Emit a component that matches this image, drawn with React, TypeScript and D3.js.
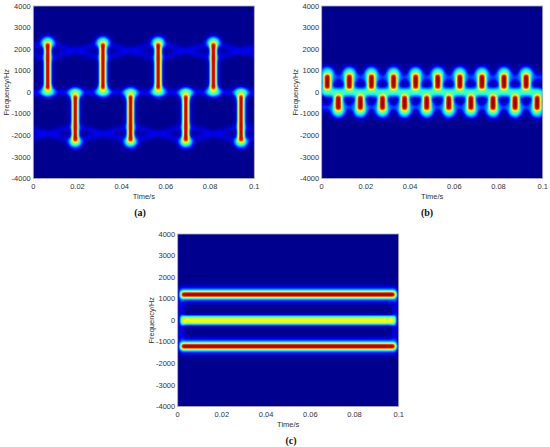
import * as d3 from 'd3';

// shared axis ticks
const timeTicks = [0, 0.02, 0.04, 0.06, 0.08, 0.1];
const freqTicks = [4000, 3000, 2000, 1000, 0, -1000, -2000, -3000, -4000];

// (a) long bars, alternating sign
const aUpperTimes = [0.0065, 0.0315, 0.0565, 0.0815];
const aLowerTimes = [0.019, 0.044, 0.069, 0.094];
const aUpperCross = [-0.006, 0.019, 0.044, 0.069, 0.094];
const aLowerCross = [0.0065, 0.0315, 0.0565, 0.0815, 0.1065];
const aCore = [130, 2280];
const aCaps = [40, 2330];
const aCrossFreq = [2300, 1550];

// (b) short bars, faster switching
const bUpperTimes = [0.0025, 0.0125, 0.0225, 0.0325, 0.0425, 0.0525, 0.0625, 0.0725, 0.0825, 0.0925];
const bLowerTimes = [0.0075, 0.0175, 0.0275, 0.0375, 0.0475, 0.0575, 0.0675, 0.0775, 0.0875, 0.0975];
const bCore = [150, 830];
const bCaps = [40, 940];
const bCrossFreq = [950, 450];

// (c) three steady tones
const cFreqs = [1200, 0, -1200];
const cLevels = [1, 0.62, 1];
const cSpan = [0.0015, 0.0985];

type Seg = { t0: number; f0: number; t1: number; f1: number; w: number; v: number };
type Cap = { t: number; f: number; rx: number; ry: number; v: number };
type Layers = { faint: Seg[]; halo: Seg[]; caps: Cap[]; core: Seg[] };

const W = 221;
const H = 172.5;

const gray = (v: number) => d3.rgb(v * 255, v * 255, v * 255).formatHex();

function crossLines(centers: number[], half: number, fTop: number, fBot: number, sign: number, w: number, v: number): Seg[] {
  return centers.flatMap(c => [
    { t0: c - half, f0: sign * fTop, t1: c + half, f1: sign * fBot, w, v },
    { t0: c + half, f0: sign * fTop, t1: c - half, f1: sign * fBot, w, v },
  ]);
}

function layersA(): Layers {
  const bars = [
    ...aUpperTimes.map(t => ({ t, s: 1 })),
    ...aLowerTimes.map(t => ({ t, s: -1 })),
  ];
  return {
    faint: [
      { t0: -0.01, f0: 0, t1: 0.11, f1: 0, w: 2.5, v: 0.28 },
      ...crossLines(aUpperCross, 0.0125, aCrossFreq[0], aCrossFreq[1], 1, 3, 0.17),
      ...crossLines(aLowerCross, 0.0125, aCrossFreq[0], aCrossFreq[1], -1, 3, 0.17),
    ],
    halo: bars.map(b => ({ t0: b.t, f0: b.s * aCaps[0], t1: b.t, f1: b.s * aCaps[1], w: 8, v: 0.22 })),
    caps: bars.flatMap(b => aCaps.map(f => ({ t: b.t, f: b.s * f, rx: 6.5, ry: 5, v: 0.5 }))),
    core: bars.map(b => ({ t0: b.t, f0: b.s * aCore[0], t1: b.t, f1: b.s * aCore[1], w: 5, v: 1 })),
  };
}

function layersB(): Layers {
  const bars = [
    ...bUpperTimes.map(t => ({ t, s: 1 })),
    ...bLowerTimes.map(t => ({ t, s: -1 })),
  ];
  return {
    faint: [
      { t0: -0.01, f0: 0, t1: 0.11, f1: 0, w: 3, v: 0.22 },
      ...crossLines(bLowerTimes, 0.005, bCrossFreq[0], bCrossFreq[1], 1, 2.5, 0.27),
      ...crossLines(bUpperTimes, 0.005, bCrossFreq[0], bCrossFreq[1], -1, 2.5, 0.27),
    ],
    halo: bars.map(b => ({ t0: b.t, f0: b.s * bCaps[0], t1: b.t, f1: b.s * bCaps[1], w: 11, v: 0.33 })),
    caps: bars.flatMap(b => bCaps.map(f => ({ t: b.t, f: b.s * f, rx: 6.5, ry: 5, v: 0.42 }))),
    core: bars.map(b => ({ t0: b.t, f0: b.s * bCore[0], t1: b.t, f1: b.s * bCore[1], w: 6, v: 1 })),
  };
}

function layersC(): Layers {
  return {
    faint: [cSpan[0], cSpan[1]].map(t => ({ t0: t, f0: -1500, t1: t, f1: 1500, w: 2, v: 0.3 })),
    halo: cFreqs
      .filter((_, i) => cLevels[i] > 0.9)
      .map(f => ({ t0: cSpan[0], f0: f, t1: cSpan[1], f1: f, w: 13, v: 0.32 })),
    caps: [],
    core: cFreqs.map((f, i) => ({
      t0: cSpan[0], f0: f, t1: cSpan[1], f1: f, w: cLevels[i] > 0.9 ? 5.5 : 8.5, v: cLevels[i],
    })),
  };
}

const panels = [
  { key: 'a', x0: 33.3, y0: 6, caption: '(a)', capX: 140, layers: layersA() },
  { key: 'b', x0: 321.7, y0: 6, caption: '(b)', capX: 427, layers: layersB() },
  { key: 'c', x0: 177.7, y0: 234, caption: '(c)', capX: 291, layers: layersC() },
];

const sans = 'Liberation Sans, Arial, sans-serif';

function Panel({ p }: { p: typeof panels[0] }) {
  const x = d3.scaleLinear().domain([0, 0.1]).range([p.x0, p.x0 + W]);
  const y = d3.scaleLinear().domain([-4000, 4000]).range([p.y0 + H, p.y0]);
  const L = p.layers;
  const segs = (list: Seg[]) =>
    list.map((s, i) => (
      <line key={i} x1={x(s.t0)} y1={y(s.f0)} x2={x(s.t1)} y2={y(s.f1)}
        stroke={gray(s.v)} strokeWidth={s.w} />
    ));
  const yb = p.y0 + H;
  return (
    <g>
      <clipPath id={`clip-${p.key}`}>
        <rect x={p.x0} y={p.y0} width={W} height={H} />
      </clipPath>
      <g clipPath={`url(#clip-${p.key})`}>
        <g filter="url(#jet)">
          <rect x={p.x0 - 20} y={p.y0 - 20} width={W + 40} height={H + 40} fill="#000" />
          <g filter="url(#blurFaint)" style={{ mixBlendMode: 'screen' }}>{segs(L.faint)}</g>
          <g filter="url(#blurHalo)" style={{ mixBlendMode: 'screen' }}>
            {segs(L.halo)}
            {L.caps.map((c, i) => (
              <ellipse key={i} cx={x(c.t)} cy={y(c.f)} rx={c.rx} ry={c.ry} fill={gray(c.v)} />
            ))}
          </g>
          <g filter="url(#blurCore)" style={{ mixBlendMode: 'screen' }}>{segs(L.core)}</g>
        </g>
      </g>
      <rect x={p.x0} y={p.y0} width={W} height={H} fill="none" stroke="#b0b0b0" strokeWidth={0.8} />
      {freqTicks.map(f => (
        <text key={f} x={p.x0 - 2.5} y={y(f)} dy="0.35em" textAnchor="end"
          fontFamily={sans} fontSize={7.5} fill="#333">{String(f)}</text>
      ))}
      {timeTicks.map(t => (
        <text key={t} x={x(t)} y={yb + 7.5} dy="0.35em" textAnchor="middle"
          fontFamily={sans} fontSize={7.5} fill="#333">{String(t)}</text>
      ))}
      <text x={p.x0 + W / 2} y={yb + 18.2} dy="0.35em" textAnchor="middle"
        fontFamily={sans} fontSize={7.5} fill="#333">Time/s</text>
      <text transform={`translate(${p.x0 - 26.5},${p.y0 + H / 2}) rotate(-90)`} dy="0.35em"
        textAnchor="middle" fontFamily={sans} fontSize={7.5} fill="#333">Frequency/Hz</text>
      <text x={p.capX} y={yb + 33.5} dy="0.35em" textAnchor="middle"
        fontFamily="Liberation Serif, Times New Roman, serif" fontWeight="bold" fontSize={10} fill="#111">
        {p.caption}
      </text>
    </g>
  );
}

export default function App() {
  return (
    <svg width={550} height={447} style={{ position: 'absolute', left: 0, top: 0, background: '#fff' }}>
      <defs>
        <filter id="jet" filterUnits="userSpaceOnUse" x={0} y={0} width={550} height={447}
          colorInterpolationFilters="sRGB">
          <feComponentTransfer>
            <feFuncR type="table" tableValues="0 0 0 0 0.5 1 1 1 0.5" />
            <feFuncG type="table" tableValues="0 0 0.5 1 1 1 0.5 0 0" />
            <feFuncB type="table" tableValues="0.5625 1 1 1 0.5 0 0 0 0" />
          </feComponentTransfer>
        </filter>
        <filter id="blurFaint" filterUnits="userSpaceOnUse" x={0} y={0} width={550} height={447}
          colorInterpolationFilters="sRGB">
          <feGaussianBlur stdDeviation={2} />
        </filter>
        <filter id="blurHalo" filterUnits="userSpaceOnUse" x={0} y={0} width={550} height={447}
          colorInterpolationFilters="sRGB">
          <feGaussianBlur stdDeviation={2.5} />
        </filter>
        <filter id="blurCore" filterUnits="userSpaceOnUse" x={0} y={0} width={550} height={447}
          colorInterpolationFilters="sRGB">
          <feGaussianBlur stdDeviation={1.6} />
        </filter>
      </defs>
      {panels.map(p => <Panel key={p.key} p={p} />)}
    </svg>
  );
}
